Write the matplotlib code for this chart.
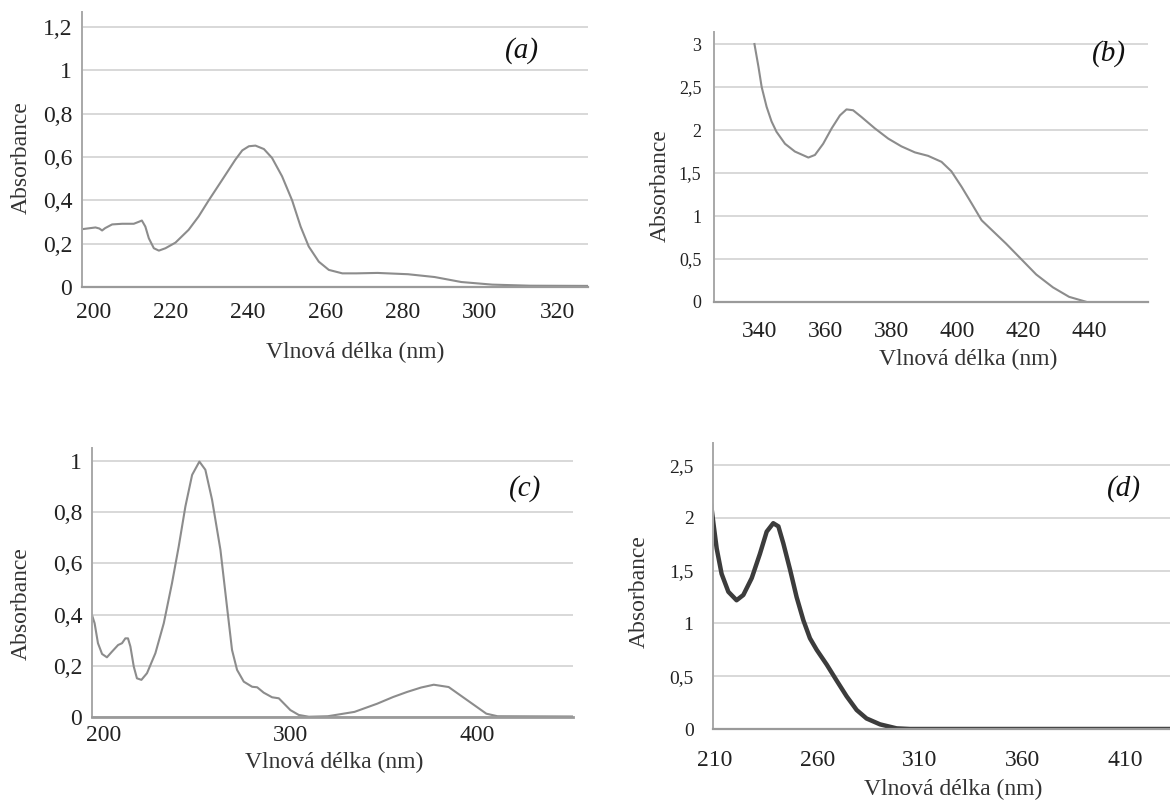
import numpy as np
import matplotlib.pyplot as plt

plt.rcParams['font.family'] = ['Liberation Serif', 'DejaVu Serif']

# --- data (wavelength nm, absorbance) ---
a_nm = [197.0, 200.5, 201.5, 202.2, 203.0, 204.8, 207.4, 210.4, 211.7, 212.5, 213.4, 214.3,
        215.6, 216.9, 218.6, 221.2, 224.6, 227.2, 229.8, 233.3, 236.7, 238.5, 240.2, 241.9,
        244.1, 246.2, 248.8, 251.4, 253.6, 255.7, 258.3, 260.9, 264.4, 268.0, 273.5, 281.4,
        288.3, 295.2, 303.2, 313.0, 329.0]
a_abs = [0.267, 0.275, 0.27, 0.261, 0.272, 0.289, 0.292, 0.292, 0.301, 0.307, 0.279, 0.225,
         0.179, 0.168, 0.179, 0.205, 0.264, 0.326, 0.40, 0.495, 0.588, 0.631, 0.65, 0.653,
         0.637, 0.596, 0.511, 0.40, 0.279, 0.187, 0.117, 0.079, 0.063, 0.063, 0.065, 0.059,
         0.046, 0.023, 0.011, 0.006, 0.005]

b_nm = [338.3, 339.5, 340.5, 342.0, 343.5, 345.0, 347.6, 350.6, 354.7, 356.7, 359.2, 361.8,
        364.3, 366.3, 368.3, 370.9, 374.9, 379.0, 383.0, 387.1, 391.1, 395.2, 398.2, 401.3,
        404.3, 407.4, 414.8, 419.4, 424.0, 429.1, 434.0, 439.4]
b_abs = [3.0, 2.74, 2.50, 2.27, 2.10, 1.98, 1.84, 1.75, 1.68, 1.71, 1.84, 2.02,
         2.17, 2.24, 2.23, 2.15, 2.02, 1.90, 1.81, 1.74, 1.70, 1.63, 1.52, 1.34,
         1.15, 0.95, 0.68, 0.50, 0.32, 0.17, 0.06, 0.0]

c_nm = [193.5, 194.9, 196.7, 198.9, 201.5, 204.2, 207.5, 209.6, 211.4, 212.8, 214.1, 215.9,
        217.6, 220.0, 223.0, 227.5, 232.0, 236.4, 240.0, 243.6, 247.2, 251.1, 254.3, 257.9,
        262.4, 265.9, 268.6, 271.3, 274.9, 279.4, 282.1, 285.6, 290.1, 293.7, 296.4, 299.9,
        304.4, 309.8, 320.0, 334.3, 346.5, 355.0, 362.6, 370.0, 376.8, 384.8, 394.9, 405.0,
        411.0, 451.5]
c_abs = [0.398, 0.366, 0.288, 0.246, 0.233, 0.255, 0.281, 0.288, 0.307, 0.307, 0.275, 0.197,
         0.151, 0.145, 0.171, 0.249, 0.366, 0.522, 0.665, 0.822, 0.945, 0.997, 0.965, 0.848,
         0.652, 0.431, 0.262, 0.184, 0.138, 0.118, 0.116, 0.095, 0.077, 0.073, 0.053, 0.027,
         0.008, 0.001, 0.003, 0.02, 0.052, 0.078, 0.098, 0.115, 0.126, 0.117, 0.065, 0.013,
         0.003, 0.002]

d_nm = [208.0, 209.2, 210.8, 213.2, 216.5, 220.5, 223.8, 227.9, 231.9, 235.2, 238.4, 240.9,
        243.3, 246.6, 249.8, 253.1, 256.3, 259.6, 264.5, 269.3, 274.2, 279.1, 283.9, 290.5,
        298.6, 305.1, 432.0]
d_abs = [2.14, 1.95, 1.71, 1.47, 1.30, 1.22, 1.27, 1.43, 1.66, 1.87, 1.95, 1.92,
         1.76, 1.51, 1.25, 1.03, 0.86, 0.75, 0.61, 0.46, 0.31, 0.18, 0.10, 0.044,
         0.006, 0.0, 0.0]

a_yticks = [0, 0.2, 0.4, 0.6, 0.8, 1, 1.2]
b_yticks = [0, 0.5, 1, 1.5, 2, 2.5, 3]
c_yticks = [0, 0.2, 0.4, 0.6, 0.8, 1]
d_yticks = [0, 0.5, 1, 1.5, 2, 2.5]
a_xticks = [200, 220, 240, 260, 280, 300, 320]
b_xticks = [340, 360, 380, 400, 420, 440]
c_xticks = [200, 300, 400]
d_xticks = [210, 260, 310, 360, 410]

W, H = 1170, 800


def box(left, top, right, bottom):
    return [left / W, 1 - bottom / H, (right - left) / W, (bottom - top) / H]


def comma(v):
    s = ('%g' % v)
    return s.replace('.', ',')


def setup(ax, xticks, yticks, xlim, ylim, ysize, xpad, ypad, xlab_pos, ylab_pos, tag, tag_pos):
    ax.set_xlim(*xlim)
    ax.set_ylim(*ylim)
    ax.set_xticks(xticks)
    ax.set_xticklabels([str(t) for t in xticks], fontsize=17)
    ax.set_yticks(yticks)
    ax.set_yticklabels([comma(t) for t in yticks], fontsize=ysize)
    ax.tick_params(length=0, colors='#222222')
    ax.tick_params(axis='x', pad=xpad)
    ax.tick_params(axis='y', pad=ypad)
    for s in ['top', 'right']:
        ax.spines[s].set_visible(False)
    ax.spines['left'].set_color('#a8a8a8')
    ax.spines['left'].set_linewidth(1.4)
    ax.spines['bottom'].set_color('#9a9a9a')
    ax.spines['bottom'].set_linewidth(1.6)
    ax.yaxis.grid(True, color='#d6d6d6', linewidth=1.3)
    ax.set_axisbelow(True)
    ax.set_xlabel('Vlnová délka (nm)', fontsize=17, color='#333333')
    ax.set_ylabel('Absorbance', fontsize=17, color='#333333')
    ax.xaxis.set_label_coords(*xlab_pos)
    ax.yaxis.set_label_coords(*ylab_pos)
    ax.text(tag_pos[0], tag_pos[1], tag, transform=ax.transAxes, fontsize=21,
            style='italic', ha='center', va='center', color='#111111')


fig = plt.figure(figsize=(11.7, 8), dpi=100)

ax_a = fig.add_axes(box(82, 12, 588, 287))
ax_a.plot(a_nm, a_abs, color='#8c8c8c', linewidth=1.5)
setup(ax_a, a_xticks, a_yticks, (197, 328), (0, 1.27), 17, 11, 7,
      (0.54, -0.2), (-0.1, 0.47), '(a)', (0.87, 0.86))

ax_b = fig.add_axes(box(714, 32, 1148, 302))
ax_b.plot(b_nm, b_abs, color='#8c8c8c', linewidth=1.5)
setup(ax_b, b_xticks, b_yticks, (326, 458), (0, 3.14), 13, 14, 9,
      (0.585, -0.175), (-0.099, 0.43), '(b)', (0.91, 0.92))

ax_c = fig.add_axes(box(92, 448, 573, 717))
ax_c.plot(c_nm, c_abs, color='#8c8c8c', linewidth=1.5)
setup(ax_c, c_xticks, c_yticks, (193.5, 451.5), (0, 1.05), 17, 6, 7,
      (0.503, -0.13), (-0.125, 0.42), '(c)', (0.9, 0.85))
ax_c.spines['bottom'].set_linewidth(2)

ax_d = fig.add_axes(box(713, 443, 1170, 729))
ax_d.plot(d_nm, d_abs, color='#3c3c3c', linewidth=3.2, solid_capstyle='round')
setup(ax_d, d_xticks, d_yticks, (209, 432), (0, 2.71), 14, 15, 14,
      (0.525, -0.175), (-0.138, 0.48), '(d)', (0.9, 0.84))

fig.savefig('out.png', dpi=100)
